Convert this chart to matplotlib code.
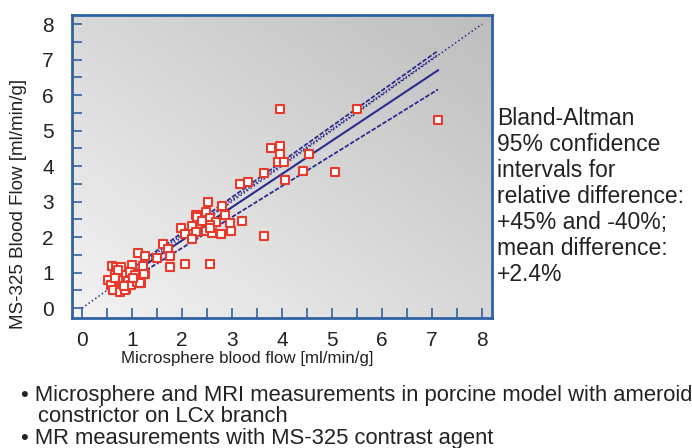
import numpy as np
import matplotlib
matplotlib.use("Agg")
import matplotlib.pyplot as plt
from matplotlib.colors import LinearSegmentedColormap

plt.rcParams['font.family'] = ['Liberation Sans', 'DejaVu Sans']

# microsphere (x) vs MS-325 MRI (y) blood flow, ml/min/g
micro = [3.97, 5.51, 7.12, 3.78, 3.97, 3.97, 4.54, 3.93, 4.04, 4.43, 5.07, 3.65, 4.06,
         3.17, 3.32, 2.53, 2.81, 2.49, 2.29, 2.31, 2.87, 2.56, 2.69, 3.21, 2.97,
         1.98, 2.21, 2.56, 2.49, 2.60, 2.29, 2.06, 2.78, 2.98, 2.21, 3.65, 2.56, 2.40,
         1.62, 1.73, 1.76, 1.51, 1.76, 2.06, 2.57,
         1.13, 1.27, 1.00, 1.23, 0.61, 0.68, 0.81, 0.67, 0.89, 1.09, 1.27,
         0.53, 0.73, 0.93, 1.13, 1.18, 0.59, 0.73, 0.88, 0.63, 0.76, 0.86, 0.99,
         0.79, 0.73, 0.96, 1.06, 1.25, 1.11, 1.16, 0.66, 1.02, 0.84]
ms325 = [5.61, 5.61, 5.31, 4.52, 4.57, 4.34, 4.35, 4.11, 4.13, 3.86, 3.84, 3.80, 3.60,
         3.49, 3.54, 2.99, 2.88, 2.71, 2.62, 2.56, 2.62, 2.53, 2.43, 2.46, 2.41,
         2.26, 2.31, 2.35, 2.16, 2.13, 2.14, 2.10, 2.08, 2.18, 1.94, 2.02, 2.25, 2.45,
         1.81, 1.66, 1.46, 1.41, 1.17, 1.23, 1.23,
         1.54, 1.47, 1.21, 1.19, 1.19, 1.15, 1.03, 0.94, 1.00, 0.89, 0.97,
         0.79, 0.80, 0.76, 0.72, 0.70, 0.65, 0.51, 0.54, 0.50, 0.46, 0.51, 0.65,
         1.16, 1.07, 1.02, 0.93, 0.95, 0.74, 0.70, 0.84, 0.85, 0.62]

# fitted lines (start / end points)
identity_x = [0, 8]
identity_y = [0, 8]
line_x = [0.53, 7.12]
fit_y = [0.53, 6.70]
upper_y = [0.65, 7.25]
upper2_y = [0.60, 7.14]
lower_y = [0.41, 6.16]

blue = '#2e62a3'
navy = '#2b2c8c'
red = '#e8392b'
txt = '#222222'

fig = plt.figure(figsize=(6.92, 4.48), dpi=100)
ax = fig.add_axes([0.104, 0.290, 0.607, 0.676])

# diagonal grey gradient background
n = 200
gx, gy = np.meshgrid(np.linspace(0, 1, n), np.linspace(0, 1, n))
grad = (gx + gy) / 2
cmap = LinearSegmentedColormap.from_list('bg', ['#f3f3f3', '#bdbdbd'])
ax.imshow(grad, cmap=cmap, origin='lower', extent=[0, 1, 0, 1],
          transform=ax.transAxes, aspect='auto', zorder=0)

ax.plot(identity_x, identity_y, ls=':', color=navy, lw=1.1, zorder=2)
ax.plot(line_x, upper_y, ls=(0, (2.5, 1)), color=navy, lw=1.3, zorder=2)
ax.plot(line_x, upper2_y, ls=(0, (1, 1)), color=navy, lw=1.1, zorder=2)
ax.plot(line_x, fit_y, ls='-', color=navy, lw=1.5, zorder=2)
ax.plot(line_x, lower_y, ls=(0, (2.5, 1)), color=navy, lw=1.3, zorder=2)

ax.scatter(micro, ms325, marker='s', s=32, facecolors='white', edgecolors=red,
           linewidths=1.5, zorder=3)

ax.set_xlim(-0.2, 8.2)
ax.set_ylim(-0.28, 8.25)
ax.set_xticks(range(0, 9))
ax.set_yticks(range(0, 9))
ax.set_xticks(np.arange(0.5, 8.5, 1), minor=True)
ax.set_yticks(np.arange(0.5, 8.5, 1), minor=True)
ax.tick_params(which='both', direction='in', length=7, width=1.2, color=blue,
               labelsize=15, labelcolor=txt)
ax.tick_params(axis='x', pad=9)
ax.tick_params(axis='y', pad=13)
for s in ax.spines.values():
    s.set_color(blue)
    s.set_linewidth(2)

fig.text(0.358, 0.199, 'Microsphere blood flow [ml/min/g]', fontsize=12.2, color=txt,
         ha='center', va='center')
fig.text(0.027, 0.545, 'MS-325 Blood Flow [ml/min/g]', rotation=90, fontsize=13.5,
         color=txt, ha='center', va='center')

fig.text(0.718, 0.761,
         'Bland-Altman\n95% confidence\nintervals for\nrelative difference:\n'
         '+45% and -40%;\nmean difference:\n+2.4%',
         fontsize=16.5, color=txt, ha='left', va='top', linespacing=1.17)

fig.text(0.030, 0.118, '\u2022 Microsphere and MRI measurements in porcine model with ameroid',
         fontsize=15.8, color=txt, ha='left', va='center')
fig.text(0.055, 0.070, 'constrictor on LCx branch', fontsize=15.8, color=txt,
         ha='left', va='center')
fig.text(0.030, 0.022, '\u2022 MR measurements with MS-325 contrast agent',
         fontsize=15.8, color=txt, ha='left', va='center')

fig.savefig('out.png', dpi=100)
